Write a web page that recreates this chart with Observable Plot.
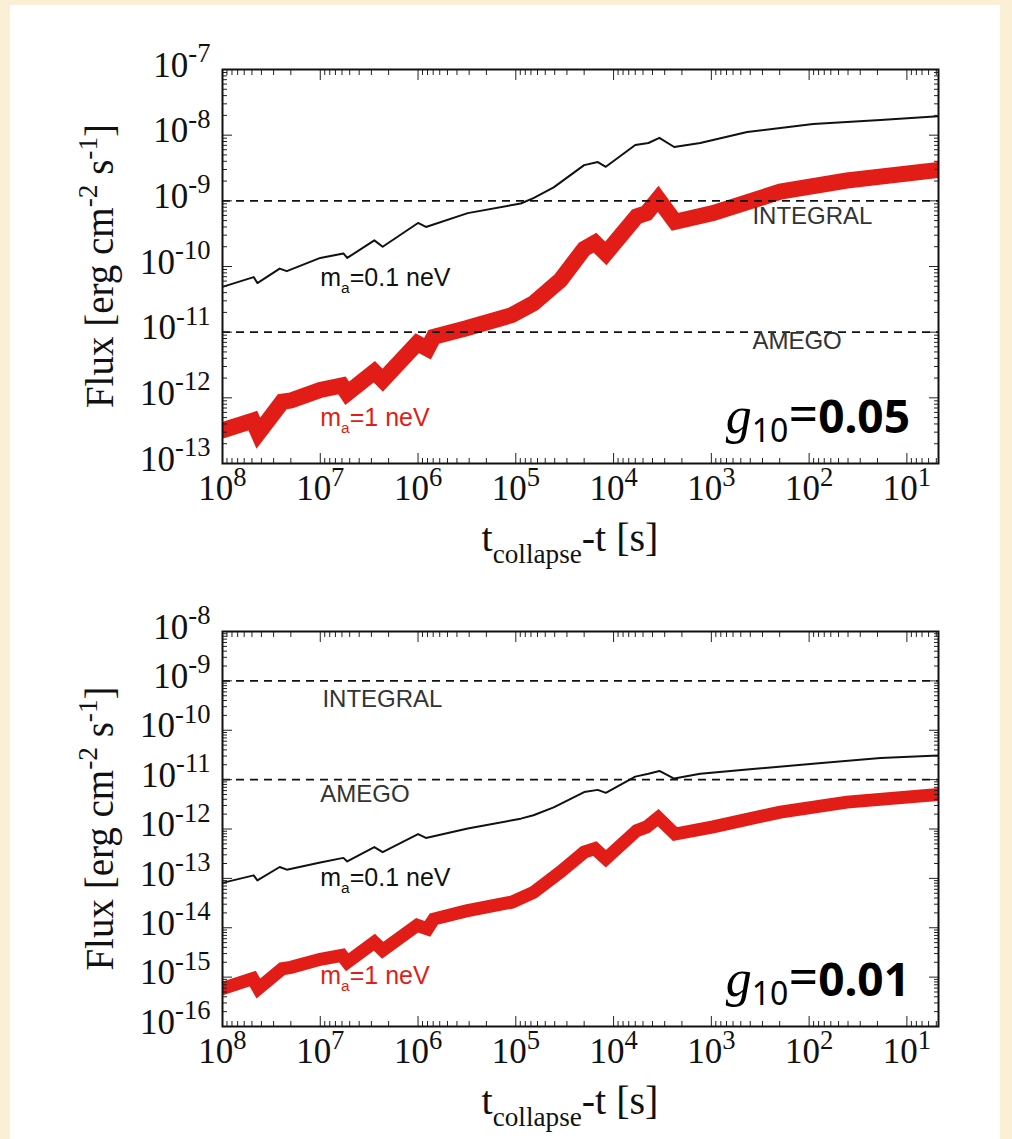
<!DOCTYPE html>
<html><head><meta charset="utf-8">
<script src="https://cdn.jsdelivr.net/npm/d3@7"></script>
<script src="https://cdn.jsdelivr.net/npm/@observablehq/plot@0.6"></script>
<style>
html,body{margin:0;padding:0;}
body{width:1012px;height:1139px;background:#fbefd6;position:relative;overflow:hidden;}
#panel{position:absolute;left:10px;top:5px;width:990px;height:1134px;background:#fff;}
#c1{position:absolute;left:0;top:0;}
#c2{position:absolute;left:0;top:575px;}
svg text{white-space:pre;}
</style></head><body>
<div id="panel"></div>
<div id="c1"></div><div id="c2"></div>
<script>
// ---------------- data ----------------
// time before collapse [s] (x axis, decreasing to the right)
const tBlack = [1e8, 4.8e7, 4.4e7, 2.6e7, 2.2e7, 1e7, 5.8e6, 5.3e6, 2.8e6, 2.3e6, 1.0e6, 8.3e5, 3.1e5, 8.9e4, 6.6e4, 4.1e4, 2.0e4, 1.45e4, 1.2e4, 6.0e3, 4.4e3, 3.4e3, 2.4e3, 1.3e3, 430, 91, 18.6, 4.75];
// m_a = 0.1 neV
const fluxBlack005 = [4.9e-11, 6.9e-11, 5.6e-11, 9.3e-11, 8.5e-11, 1.35e-10, 1.58e-10, 1.35e-10, 2.5e-10, 2.0e-10, 4.6e-10, 4.0e-10, 6.5e-10, 9.1e-10, 1.1e-9, 1.6e-9, 3.5e-9, 3.9e-9, 3.3e-9, 7.1e-9, 7.6e-9, 9.1e-9, 6.6e-9, 7.6e-9, 1.12e-8, 1.48e-8, 1.7e-8, 1.95e-8];
const fluxBlack001 = [8.1e-14, 1.15e-13, 9.1e-14, 1.7e-13, 1.5e-13, 2.1e-13, 2.6e-13, 2.2e-13, 4.3e-13, 3.4e-13, 7.9e-13, 6.6e-13, 1.02e-12, 1.62e-12, 1.9e-12, 2.75e-12, 5.6e-12, 6.2e-12, 5.4e-12, 1.15e-11, 1.32e-11, 1.5e-11, 1.05e-11, 1.32e-11, 1.6e-11, 2.1e-11, 2.75e-11, 3.1e-11];
const tRed = [1e8, 4.9e7, 4.3e7, 2.45e7, 2.0e7, 1e7, 6.0e6, 5.3e6, 2.8e6, 2.3e6, 1.02e6, 8.0e5, 6.9e5, 3.2e5, 1.1e5, 6.6e4, 3.5e4, 2.0e4, 1.55e4, 1.2e4, 5.8e3, 4.6e3, 3.5e3, 2.35e3, 960, 197, 41, 4.75];
// m_a = 1 neV
const fluxRed005 = [3.2e-13, 4.5e-13, 2.9e-13, 8.7e-13, 9.1e-13, 1.32e-12, 1.55e-12, 1.17e-12, 2.5e-12, 1.86e-12, 6.8e-12, 5.6e-12, 8.5e-12, 1.15e-11, 1.82e-11, 2.75e-11, 6.2e-11, 1.86e-10, 2.3e-10, 1.58e-10, 5.8e-10, 6.5e-10, 1.07e-9, 4.8e-10, 6.5e-10, 1.38e-9, 2.04e-9, 2.95e-9];
const fluxRed001 = [5.9e-16, 9.3e-16, 5.9e-16, 1.48e-15, 1.58e-15, 2.3e-15, 2.75e-15, 2.0e-15, 5.1e-15, 3.5e-15, 1.12e-14, 9.5e-15, 1.5e-14, 2.2e-14, 3.3e-14, 5.2e-14, 1.35e-13, 3.4e-13, 4.0e-13, 2.5e-13, 9.3e-13, 1.1e-12, 1.7e-12, 7.9e-13, 1.1e-12, 2.2e-12, 3.5e-12, 5.0e-12];

// sensitivities
const detectorNames = ["INTEGRAL", "AMEGO"];
const detectorFlux = [1e-9, 1e-11];

// label anchors
const seriesLabels = ["m_{a}=0.1 neV", "m_{a}=1 neV"];
const seriesLabelT = [1e7, 1e7];
const seriesLabelFlux005 = [6.6e-11, 4.9e-13];
const seriesLabelFlux001 = [1.0e-13, 1.05e-15];
const detLabelT005 = [380, 380];
const detLabelFlux005 = [5.9e-10, 7.2e-12];
const detLabelT001 = [9.5e6, 1e7];
const detLabelFlux001 = [4.2e-10, 5.1e-12];

// axes
const xDomain = [1e8, 4.75];
const xMajor = [1e8, 1e7, 1e6, 1e5, 1e4, 1e3, 1e2, 1e1];
const yDomain005 = [1e-13, 1e-7];
const yMajor005 = [1e-7, 1e-8, 1e-9, 1e-10, 1e-11, 1e-12, 1e-13];
const yDomain001 = [1e-16, 1e-8];
const yMajor001 = [1e-8, 1e-9, 1e-10, 1e-11, 1e-12, 1e-13, 1e-14, 1e-15, 1e-16];
const couplings = ["0.05", "0.01"];

// ---------------- helpers ----------------
const RED = "#e21d17";
const SERIF = "'Liberation Serif','Times New Roman',serif";
const SANS = "'Liberation Sans',Arial,sans-serif";
function minor(e0, e1, lo, hi) {
  const out = [];
  for (let e = e0; e < e1; e++) for (let m = 2; m <= 9; m++) {
    const v = m * Math.pow(10, e);
    if (v >= lo && v <= hi) out.push(v);
  }
  return out;
}
const expFmt = d => "10^{" + Math.round(Math.log10(d)) + "}";

function rich(el, str, fs, o = {}) {
  const sel = d3.select(el); sel.text(null);
  const parts = []; const re = /([\^_])\{([^}]*)\}/g; let last = 0, m;
  while ((m = re.exec(str))) {
    if (m.index > last) parts.push([str.slice(last, m.index), ""]);
    parts.push([m[2], m[1]]); last = re.lastIndex;
  }
  if (last < str.length) parts.push([str.slice(last), ""]);
  let cur = 0;
  for (const [s, k] of parts) {
    const target = k === "^" ? -fs * (o.up ?? 0.42) : k === "_" ? fs * (o.down ?? 0.3) : 0;
    const ts = sel.append("tspan").text(s);
    if (k) ts.attr("font-size", fs * (k === "^" ? (o.sup ?? 0.68) : (o.sub ?? 0.65)));
    if (target !== cur) ts.attr("dy", target - cur);
    cur = target;
  }
}

function makeChart(cfg) {
  const {height, marginTop, marginBottom, yDomain, yMajor, fluxBlack, fluxRed, redWidth,
         sLabFlux, dLabT, dLabFlux, coupling} = cfg;
  const marginLeft = 222, marginRight = 74, width = 1012;
  const black = tBlack.map((t, i) => ({t, f: fluxBlack[i]}));
  const red = tRed.map((t, i) => ({t, f: fluxRed[i]}));
  const det = detectorNames.map((n, i) => ({n, f: detectorFlux[i], lt: dLabT[i], lf: dLabFlux[i]}));
  const labs = seriesLabels.map((s, i) => ({s, t: seriesLabelT[i], f: sLabFlux[i], c: i === 0 ? "#111" : RED}));
  const e0 = Math.round(Math.log10(yDomain[0])), e1 = Math.round(Math.log10(yDomain[1]));
  const yMinor = minor(e0, e1, yDomain[0], yDomain[1]);
  const xMinor = minor(0, 8, xDomain[1], xDomain[0]);
  const tickCol = "#222";
  const svg = Plot.plot({
    width, height, marginLeft, marginRight, marginTop, marginBottom,
    style: {background: "transparent", overflow: "visible", fontFamily: SERIF},
    x: {type: "log", domain: xDomain},
    y: {type: "log", domain: yDomain},
    marks: [
      Plot.line(red, {x: "t", y: "f", stroke: RED, strokeWidth: redWidth, strokeLinejoin: "miter", strokeMiterlimit: 3, clip: true}),
      Plot.ruleY(det, {y: "f", stroke: "#111", strokeWidth: 1.6, strokeDasharray: "8,6"}),
      Plot.line(black, {x: "t", y: "f", stroke: "#111", strokeWidth: 2, clip: true}),
      Plot.text(det, {x: "lt", y: "lf", text: "n", textAnchor: "start", fill: "#333", fontSize: 24, fontFamily: SANS}),
      Plot.text(labs, {x: "t", y: "f", text: "s", textAnchor: "start", fill: "c", fontSize: 25, fontFamily: SANS}),
      // tick marks (inward, all four sides)
      Plot.axisX({anchor: "bottom", ticks: xMajor, tickSize: -10, fill: "none", stroke: tickCol, label: null}),
      Plot.axisX({anchor: "top", ticks: xMajor, tickSize: -10, fill: "none", stroke: tickCol, label: null}),
      Plot.axisX({anchor: "bottom", ticks: xMinor, tickSize: -5, fill: "none", stroke: tickCol, label: null}),
      Plot.axisX({anchor: "top", ticks: xMinor, tickSize: -5, fill: "none", stroke: tickCol, label: null}),
      Plot.axisY({anchor: "left", ticks: yMajor, tickSize: -10, fill: "none", stroke: tickCol, label: null}),
      Plot.axisY({anchor: "right", ticks: yMajor, tickSize: -10, fill: "none", stroke: tickCol, label: null}),
      Plot.axisY({anchor: "left", ticks: yMinor, tickSize: -5, fill: "none", stroke: tickCol, label: null}),
      Plot.axisY({anchor: "right", ticks: yMinor, tickSize: -5, fill: "none", stroke: tickCol, label: null}),
      // tick labels
      Plot.axisX({anchor: "bottom", ticks: xMajor, tickSize: 0, tickPadding: 12, tickFormat: expFmt, fontSize: 35, fontFamily: SERIF, fill: "#111", label: null}),
      Plot.axisY({anchor: "left", ticks: yMajor, tickSize: 0, tickPadding: 12, tickFormat: expFmt, fontSize: 35, fontFamily: SERIF, fill: "#111", dy: -4, label: null}),
      Plot.frame({stroke: "#111", strokeWidth: 2})
    ]
  });
  const s = d3.select(svg);
  s.selectAll('g[aria-label="x-axis tick label"] text, g[aria-label="y-axis tick label"] text').each(function() {
    const txt = this.textContent;
    if (txt.includes("^{")) rich(this, txt, 35, {sup: 0.76, up: 0.42});
  });
  s.selectAll('g[aria-label="text"] text').each(function() {
    const txt = this.textContent;
    if (txt.includes("_{")) rich(this, txt, 25, {sub: 0.62, down: 0.28});
  });
  const fx0 = marginLeft, fx1 = width - marginRight, fy0 = marginTop, fy1 = height - marginBottom;
  // y title
  const yt = s.append("text").attr("transform", `translate(113,${(fy0 + fy1) / 2}) rotate(-90)`)
    .attr("text-anchor", "middle").attr("font-family", SERIF).attr("font-size", 39).attr("fill", "#111");
  rich(yt.node(), "Flux [erg cm^{-2} s^{-1}]", 39, {sup: 0.7, up: 0.42});
  // x title
  const xt = s.append("text").attr("x", (fx0 + fx1) / 2 - 10).attr("y", fy1 + 88)
    .attr("text-anchor", "middle").attr("font-family", SERIF).attr("font-size", 40).attr("fill", "#111");
  rich(xt.node(), "t_{collapse}-t [s]", 40, {sub: 0.68, down: 0.3});
  // coupling annotation
  const g = s.append("text").attr("x", fx1 - 28).attr("y", fy1 - 30).attr("text-anchor", "end").attr("fill", "#000");
  g.append("tspan").attr("font-family", SERIF).attr("font-style", "italic").attr("font-size", 52).text("g");
  g.append("tspan").attr("font-family", "'Noto Sans',sans-serif").attr("font-size", 32).attr("dy", 9).text("10");
  g.append("tspan").attr("font-family", "'Noto Sans',sans-serif").attr("font-size", 52).attr("dy", -9).text("=");
  g.append("tspan").attr("font-family", "'Noto Sans',sans-serif").attr("font-weight", "bold").attr("font-size", 46).text(coupling);
  return svg;
}

document.getElementById("c1").append(makeChart({
  height: 575, marginTop: 69, marginBottom: 112,
  yDomain: yDomain005, yMajor: yMajor005, fluxBlack: fluxBlack005, fluxRed: fluxRed005, redWidth: 16,
  sLabFlux: seriesLabelFlux005, dLabT: detLabelT005, dLabFlux: detLabelFlux005, coupling: couplings[0]
}));
document.getElementById("c2").append(makeChart({
  height: 564, marginTop: 56, marginBottom: 113,
  yDomain: yDomain001, yMajor: yMajor001, fluxBlack: fluxBlack001, fluxRed: fluxRed001, redWidth: 13,
  sLabFlux: seriesLabelFlux001, dLabT: detLabelT001, dLabFlux: detLabelFlux001, coupling: couplings[1]
}));
</script>
</body></html>
